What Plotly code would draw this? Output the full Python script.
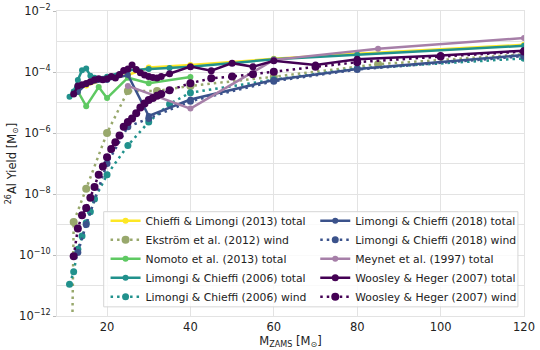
import plotly.graph_objects as go

# 26Al yields (M_sun) vs initial mass (M_sun)
cl13_mass = [13, 15, 20, 25, 30, 40, 60, 80, 120]
cl13_total = [3.2e-5, 3.6e-5, 6.0e-5, 8.0e-5, 1.4e-4, 1.7e-4, 2.7e-4, 4.0e-4, 7.8e-4]

ek12_mass = [9, 12, 15, 20, 25, 32, 40, 60, 85, 120]
ek12_wind = [1e-40, 1.2e-9, 1.5e-8, 1.0e-6, 2.4e-5, 2.4e-5, 3.5e-5, 7.0e-5, 1.8e-4, 3.8e-4]

no13_mass = [13, 15, 18, 20, 25, 30, 40]
no13_total = [2.3e-5, 7.6e-6, 3.2e-5, 1.4e-5, 6.5e-5, 4.3e-5, 6.8e-5]

lc06_mass = [11, 12, 13, 14, 15, 16, 17, 20, 25, 30, 35, 40, 60, 80, 120]
lc06_total = [1.55e-5, 2.3e-5, 5.5e-5, 1.15e-4, 1.3e-4, 7.6e-5, 6.5e-5, 7.0e-5,
              1.15e-4, 1.25e-4, 1.35e-4, 1.5e-4, 2.6e-4, 3.7e-4, 7.2e-4]
lc06_wind = [1.1e-11, 2.8e-11, 1.55e-10, 4.2e-10, 1.15e-9, 2.6e-9, 6.8e-9, 4.3e-8,
             3.9e-7, 2.3e-6, 9.0e-6, 2.1e-5, 5.6e-5, 1.3e-4, 2.8e-4]

lc18_mass = [13, 15, 20, 25, 30, 40, 60, 80, 120]
lc18_total = [2.2e-5, 4.0e-5, 5.5e-5, 8.0e-5, 3.6e-6, 1.25e-5, 5.5e-5, 1.25e-4, 3.6e-4]
lc18_wind = [1.2e-10, 1.0e-9, 1.0e-7, 1.6e-6, 3.0e-6, 1.1e-5, 5.0e-5, 1.2e-4, 3.3e-4]

me97_mass = [25, 40, 60, 85, 120]
me97_total = [3.5e-5, 6.3e-6, 2.5e-4, 5.8e-4, 1.3e-3]

wh07_mass = [12, 13, 14, 15, 16, 17, 18, 19, 20, 21, 22, 23, 24, 25, 26, 27, 28,
             29, 30, 31, 32, 33, 35, 40, 45, 50, 55, 60, 70, 80, 100, 120]
wh07_total = [1.9e-5, 3.5e-5, 3.8e-5, 4.2e-5, 4.8e-5, 5.6e-5, 6.0e-5, 5.6e-5,
              6.0e-5, 7.1e-5, 6.3e-5, 8.3e-5, 1.12e-4, 1.26e-4, 1.7e-4, 1.2e-4,
              9.5e-5, 7.9e-5, 7.1e-5, 6.6e-5, 6.3e-5, 7.1e-5, 8.7e-5, 1.5e-4,
              1.1e-4, 1.95e-4, 1.48e-4, 2.35e-4, 1.7e-4, 2.6e-4, 3.5e-4, 5.0e-4]
wh07_wind = [9.1e-11, 7.4e-10, 2.0e-9, 3.5e-9, 7.6e-9, 1.7e-8, 4.3e-8, 7.9e-8,
             1.6e-7, 3.0e-7, 5.0e-7, 8.3e-7, 1.6e-6, 2.3e-6, 3.0e-6, 4.4e-6,
             6.9e-6, 9.3e-6, 1.2e-5, 1.4e-5, 1.66e-5, 1.9e-5, 2.5e-5, 4.3e-5,
             6.2e-5, 7.1e-5, 8.5e-5, 1.02e-4, 1.5e-4, 2.1e-4, 3.2e-4, 4.7e-4]

y_major_exp = [-12, -10, -8, -6, -4, -2]
y_minor_exp = [-11, -9, -7, -5, -3]
x_ticks = [20, 40, 60, 80, 100, 120]

FONT = "DejaVu Sans"
DOT = "2.5px,4px"

# name, x, y, colour, dotted?, marker size, which legend column
series = [
    ("Chieffi & Limongi (2013) total", cl13_mass, cl13_total, "#fde725", False, 6, "legend"),
    ("Ekström et al. (2012) wind", ek12_mass, ek12_wind, "#98a86c", True, 8, "legend"),
    ("Nomoto et al. (2013) total", no13_mass, no13_total, "#5ec962", False, 6, "legend"),
    ("Limongi & Chieffi (2006) total", lc06_mass, lc06_total, "#21918c", False, 6, "legend"),
    ("Limongi & Chieffi (2006) wind", lc06_mass, lc06_wind, "#21918c", True, 7, "legend"),
    ("Limongi & Chieffi (2018) total", lc18_mass, lc18_total, "#3b528b", False, 6, "legend2"),
    ("Limongi & Chieffi (2018) wind", lc18_mass, lc18_wind, "#3b528b", True, 7, "legend2"),
    ("Meynet et al. (1997) total", me97_mass, me97_total, "#a67fa8", False, 6, "legend2"),
    ("Woosley & Heger (2007) total", wh07_mass, wh07_total, "#440154", False, 7, "legend2"),
    ("Woosley & Heger (2007) wind", wh07_mass, wh07_wind, "#440154", True, 8, "legend2"),
]

fig = go.Figure()
for name, xs, ys, col, dotted, msize, leg in series:
    fig.add_trace(go.Scatter(
        x=xs, y=ys, name=name, mode="lines+markers",
        line=dict(color=col, width=2.5, dash=DOT if dotted else "solid"),
        marker=dict(color=col, size=msize),
        legend=leg,
    ))

grid = "#e3e3e3"
leg_common = dict(
    orientation="v", yanchor="top", xanchor="left",
    font=dict(family=FONT, size=10.8, color="#222222"),
    bgcolor="rgba(0,0,0,0)", borderwidth=0, itemwidth=30, tracegroupgap=0,
)

fig.update_layout(
    width=540, height=350,
    margin=dict(l=57, r=16, t=11, b=34),
    paper_bgcolor="white", plot_bgcolor="white",
    font=dict(family=FONT, size=11.5, color="#222222"),
    showlegend=True,
    legend=dict(x=0.104, y=0.36, **leg_common),
    legend2=dict(x=0.553, y=0.36, **leg_common),
    # frame around the two legend columns
    shapes=[dict(type="rect", xref="paper", yref="paper",
                 x0=0.1, x1=0.987, y0=0.03, y1=0.342,
                 fillcolor="rgba(255,255,255,0.8)",
                 line=dict(color="#d6d6d6", width=1), layer="above")],
    xaxis=dict(
        range=[8, 120], tickvals=x_ticks, ticks="", automargin=False,
        showgrid=True, gridcolor=grid, gridwidth=1,
        showline=True, linecolor=grid, mirror=True, zeroline=False,
        title=dict(text="M<sub>ZAMS</sub> [M<sub>\u2299</sub>]", standoff=0,
                   font=dict(size=11.5)),
    ),
    yaxis=dict(
        type="log", range=[-12, -2], automargin=False,
        tickvals=[10.0 ** e for e in y_major_exp],
        ticktext=["10<sup>\u2212%d</sup>" % abs(e) for e in y_major_exp],
        ticks="outside", ticklen=3, tickcolor="#bbbbbb",
        showgrid=True, gridcolor=grid, gridwidth=1,
        minor=dict(tickvals=[10.0 ** e for e in y_minor_exp], showgrid=True,
                   gridcolor=grid, gridwidth=1, ticks=""),
        showline=True, linecolor=grid, mirror=True, zeroline=False,
        title=dict(text="<sup>26</sup>Al Yield [M<sub>\u2299</sub>]", standoff=0,
                   font=dict(size=11.5)),
    ),
)

# the page body has a default 8px margin; drop it so the figure sits at the corner
fig.write_html("out.html", config={"displayModeBar": False},
               post_script="document.body.style.margin='0';")
